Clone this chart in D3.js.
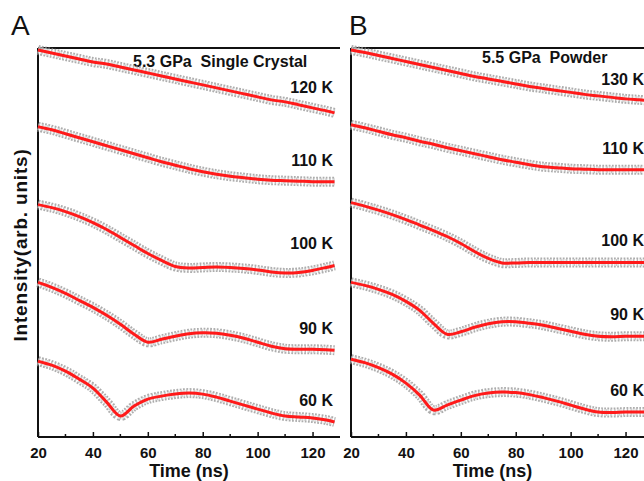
<!DOCTYPE html>
<html lang="en">
<head>
<meta charset="UTF-8"/>
<title>Time spectra</title>
<script src="https://d3js.org/d3.v7.min.js" charset="utf-8"></script>
<style type="text/css">
    body { margin: 0; background: #fff; }
    text { font-family: Arial, "Liberation Sans", sans-serif; fill: #111; white-space: pre; }
    .axis path, .axis line { fill: none; stroke: #111; }
</style>
</head>
<body>
<div id="chart"></div>
<script type="text/javascript">

// time grids (ns)
var timeA = [20, 25, 30, 35, 40, 45, 50, 55, 60, 65, 70, 75, 80, 85, 90, 95, 100, 105, 110, 115, 120, 125, 128];
var timeB = [20, 25, 30, 35, 40, 45, 50, 55, 60, 65, 70, 75, 80, 85, 90, 95, 100, 105, 110, 115, 120, 125, 130];

var tempsA = ["120 K", "110 K", "100 K", "90 K", "60 K"];
var tempsB = ["130 K", "110 K", "100 K", "90 K", "60 K"];

// fitted intensity (arb. units, stacked)
var fitA120 = [38.8, 38.5, 38.2, 37.9, 37.6, 37.4, 37.1, 36.8, 36.5, 36.2, 35.9, 35.6, 35.3, 35.0, 34.7, 34.4, 34.1, 33.8, 33.6, 33.3, 33.0, 32.7, 32.5];
var fitA110 = [31.1, 30.8, 30.4, 30.0, 29.6, 29.2, 28.8, 28.4, 28.0, 27.6, 27.25, 26.9, 26.6, 26.35, 26.15, 26.0, 25.85, 25.75, 25.7, 25.65, 25.6, 25.6, 25.6];
var fitA100 = [23.3, 23.0, 22.6, 22.1, 21.5, 20.8, 20.0, 19.2, 18.4, 17.7, 17.1, 16.95, 17.0, 17.05, 17.0, 16.9, 16.75, 16.55, 16.45, 16.5, 16.7, 17.0, 17.2];
var fitA90 = [15.5, 15.0, 14.4, 13.7, 13.0, 12.2, 11.3, 10.3, 9.5, 9.8, 10.1, 10.35, 10.45, 10.4, 10.2, 9.9, 9.5, 9.1, 8.85, 8.8, 8.8, 8.75, 8.7];
var fitA60 = [7.6, 7.2, 6.6, 5.8, 4.9, 3.5, 2.1, 3.1, 3.8, 4.1, 4.3, 4.4, 4.3, 4.0, 3.6, 3.2, 2.8, 2.4, 2.1, 2.0, 1.9, 1.7, 1.5];

var fitB130 = [38.8, 38.55, 38.25, 37.95, 37.65, 37.35, 37.05, 36.75, 36.45, 36.15, 35.9, 35.65, 35.4, 35.15, 34.95, 34.75, 34.55, 34.35, 34.2, 34.05, 33.9, 33.8, 33.7];
var fitB110 = [31.3, 31.0, 30.65, 30.3, 30.0, 29.65, 29.35, 29.0, 28.7, 28.4, 28.1, 27.8, 27.55, 27.3, 27.1, 27.0, 26.9, 26.85, 26.8, 26.8, 26.8, 26.8, 26.8];
var fitB100 = [23.5, 23.15, 22.75, 22.3, 21.8, 21.25, 20.7, 20.1, 19.4, 18.6, 17.9, 17.45, 17.45, 17.5, 17.5, 17.5, 17.5, 17.5, 17.5, 17.5, 17.5, 17.5, 17.5];
var fitB90 = [15.5, 15.2, 14.8, 14.3, 13.6, 12.7, 11.4, 10.3, 10.55, 11.0, 11.35, 11.55, 11.55, 11.4, 11.2, 10.9, 10.6, 10.3, 10.1, 10.05, 10.1, 10.1, 10.1];
var fitB60 = [7.8, 7.45, 6.95, 6.3, 5.4, 4.2, 2.7, 3.2, 3.7, 4.15, 4.4, 4.5, 4.45, 4.25, 3.95, 3.6, 3.2, 2.8, 2.5, 2.45, 2.5, 2.5, 2.5];

var xTicks = [20, 40, 60, 80, 100, 120];
var xMinor = [30, 50, 70, 90, 110];

var W = 644, H = 481;

var svg = d3.select("#chart")
    .append("svg")
    .attr("width", W)
    .attr("height", H);

var plotTop = 48, plotBottom = 437;

var y = d3.scaleLinear()
    .domain([0, 39])
    .range([plotBottom, plotTop]);

function drawPanel(p) {
    var x = d3.scaleLinear().domain([20, 130]).range([p.left, p.left + 302]);
    var g = svg.append("g");

    // frame: left axis, top line, bottom axis line
    g.append("line")
        .attr("x1", p.left).attr("x2", p.left)
        .attr("y1", plotTop).attr("y2", plotBottom)
        .attr("stroke", "#111").attr("stroke-width", 2);
    g.append("line")
        .attr("x1", p.left).attr("x2", p.right)
        .attr("y1", plotTop).attr("y2", plotTop)
        .attr("stroke", "#111").attr("stroke-width", 2);
    g.append("line")
        .attr("x1", p.left).attr("x2", p.right)
        .attr("y1", plotBottom).attr("y2", plotBottom)
        .attr("stroke", "#111").attr("stroke-width", 2);

    var ax = g.append("g")
        .attr("class", "axis")
        .attr("transform", "translate(0," + plotBottom + ")")
        .call(d3.axisBottom(x).tickValues(xTicks).tickSizeInner(-5).tickSizeOuter(0).tickPadding(10));
    ax.select(".domain").remove();
    ax.selectAll("line").attr("stroke-width", 1.5);
    ax.selectAll("text")
        .style("font-size", "15px")
        .style("font-weight", "bold")
        .attr("fill", "#111");

    g.selectAll(".minor")
        .data(xMinor)
        .enter()
        .append("line")
        .attr("x1", function(d) { return x(d); })
        .attr("x2", function(d) { return x(d); })
        .attr("y1", plotBottom)
        .attr("y2", plotBottom - 3)
        .attr("stroke", "#111")
        .attr("stroke-width", 1.5);

    g.append("text")
        .attr("x", (p.left + Math.min(p.right, W)) / 2 + p.xlab)
        .attr("y", 477)
        .attr("text-anchor", "middle")
        .style("font-size", "18px")
        .style("font-weight", "bold")
        .text("Time (ns)");

    g.append("text")
        .attr("x", p.letterX)
        .attr("y", 35)
        .style("font-size", "28px")
        .text(p.letter);

    g.append("text")
        .attr("x", p.titleX)
        .attr("y", p.titleY)
        .style("font-size", "16px")
        .style("font-weight", "bold")
        .text(p.title);

    var line = d3.line()
        .x(function(d) { return x(d[0]); })
        .y(function(d) { return y(d[1]); })
        .curve(d3.curveCatmullRom.alpha(0.5));

    p.series.forEach(function(s, i) {
        var pts = p.time.map(function(t, j) { return [t, s[j]]; });
        // measured points: grey band of open circles
        g.append("path").attr("d", line(pts))
            .attr("fill", "none").attr("stroke", "#8a8a8a")
            .attr("stroke-width", 10).attr("stroke-dasharray", "1.8,1.4")
            .attr("opacity", 0.7);
        g.append("path").attr("d", line(pts))
            .attr("fill", "none").attr("stroke", "#fff")
            .attr("stroke-width", 6.5).attr("opacity", 0.6);
        g.append("path").attr("d", line(pts))
            .attr("fill", "none").attr("stroke", "#9a9a9a")
            .attr("stroke-width", 7).attr("stroke-dasharray", "1,3.2")
            .attr("opacity", 0.55);
        // fit
        g.append("path").attr("d", line(pts))
            .attr("fill", "none").attr("stroke", "#ff1a1a")
            .attr("stroke-width", 3);

        g.append("text")
            .attr("x", p.labelX)
            .attr("y", y(s[s.length - 1]) - 16 + (i === 0 ? p.firstDy : 0))
            .attr("text-anchor", "end")
            .style("font-size", "16px")
            .style("font-weight", "bold")
            .text(p.temps[i]);
    });
}

drawPanel({
    left: 38, right: 340, letter: "A", letterX: 11,
    title: "5.3 GPa  Single Crystal", titleX: 133, titleY: 67,
    time: timeA, temps: tempsA, labelX: 333, firstDy: -4, xlab: 0,
    series: [fitA120, fitA110, fitA100, fitA90, fitA60]
});

drawPanel({
    left: 351, right: 644, letter: "B", letterX: 349, xlab: -5,
    title: "5.5 GPa  Powder", titleX: 482, titleY: 63,
    time: timeB, temps: tempsB, labelX: 644, firstDy: 0,
    series: [fitB130, fitB110, fitB100, fitB90, fitB60]
});

svg.append("text")
    .attr("transform", "translate(27,245) rotate(-90)")
    .attr("text-anchor", "middle")
    .style("font-size", "19px")
    .style("font-weight", "bold")
    .style("letter-spacing", "0.8px")
    .text("Intensity(arb. units)");

</script>
</body>
</html>
